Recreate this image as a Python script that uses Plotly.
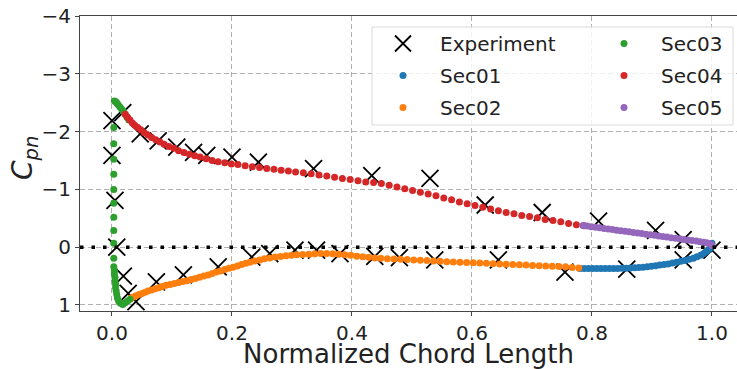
import plotly.graph_objects as go

# ---------------- data ----------------
exp_x = [0.005, 0.0, 0.0, 0.018, 0.047, 0.077, 0.108, 0.136, 0.158, 0.200, 0.244, 0.336,
         0.433, 0.530, 0.622, 0.717, 0.811, 0.906, 0.952, 1.000,
         0.008, 0.019, 0.027, 0.040, 0.074, 0.119, 0.177, 0.233, 0.263, 0.305, 0.341,
         0.380, 0.438, 0.479, 0.538, 0.644, 0.755, 0.858, 0.952]
exp_cp = [-0.81, -1.59, -2.19, -2.33, -1.96, -1.84, -1.73, -1.64, -1.59, -1.56, -1.47, -1.36,
          -1.24, -1.19, -0.73, -0.60, -0.45, -0.29, -0.13, 0.05,
          0.00, 0.50, 0.80, 0.94, 0.60, 0.48, 0.34, 0.17, 0.11, 0.05, 0.05,
          0.11, 0.16, 0.18, 0.22, 0.22, 0.43, 0.38, 0.22]

sec01_x = [0.780, 0.787, 0.794, 0.801, 0.808, 0.815, 0.822, 0.829, 0.836, 0.843, 0.850, 0.857,
           0.864, 0.871, 0.878, 0.885, 0.892, 0.899, 0.906, 0.913, 0.920, 0.927, 0.934, 0.941,
           0.948, 0.955, 0.962, 0.969, 0.975, 0.981, 0.986, 0.990, 0.994, 0.997, 0.999, 1.000]
sec01_cp = [0.37, 0.37, 0.37, 0.37, 0.37, 0.37, 0.37, 0.37, 0.37, 0.37, 0.365, 0.365,
            0.36, 0.355, 0.35, 0.345, 0.34, 0.33, 0.32, 0.31, 0.30, 0.29, 0.275, 0.26,
            0.245, 0.23, 0.21, 0.19, 0.165, 0.14, 0.11, 0.08, 0.05, 0.01, -0.03, -0.07]

sec02_x = [0.032, 0.036, 0.040, 0.045, 0.050, 0.055, 0.060, 0.066, 0.072, 0.078, 0.084, 0.090,
           0.097, 0.104, 0.111, 0.118, 0.125, 0.132, 0.139, 0.146, 0.153, 0.160, 0.167, 0.174,
           0.181, 0.188, 0.195, 0.202, 0.209, 0.216, 0.223, 0.230, 0.238, 0.246, 0.254, 0.263,
           0.272, 0.281, 0.290, 0.299, 0.308, 0.318, 0.328, 0.338, 0.348, 0.358, 0.368, 0.378,
           0.388, 0.398, 0.408, 0.418, 0.428, 0.438, 0.448, 0.459, 0.470, 0.481, 0.492, 0.503,
           0.514, 0.525, 0.536, 0.547, 0.558, 0.569, 0.580, 0.591, 0.602, 0.613, 0.624, 0.635,
           0.646, 0.657, 0.668, 0.679, 0.690, 0.701, 0.712, 0.723, 0.734, 0.745, 0.756, 0.767,
           0.778]
sec02_cp = [0.88, 0.86, 0.84, 0.82, 0.80, 0.78, 0.76, 0.74, 0.72, 0.70, 0.68, 0.66,
            0.645, 0.63, 0.61, 0.595, 0.58, 0.56, 0.54, 0.52, 0.50, 0.48, 0.455, 0.43,
            0.41, 0.385, 0.365, 0.345, 0.325, 0.30, 0.28, 0.26, 0.24, 0.22, 0.20, 0.185,
            0.17, 0.16, 0.15, 0.14, 0.13, 0.125, 0.12, 0.115, 0.11, 0.11, 0.115, 0.12,
            0.13, 0.14, 0.155, 0.165, 0.175, 0.185, 0.19, 0.20, 0.205, 0.21, 0.215, 0.22,
            0.225, 0.23, 0.24, 0.245, 0.25, 0.255, 0.26, 0.265, 0.27, 0.275, 0.28, 0.285,
            0.29, 0.295, 0.30, 0.305, 0.31, 0.315, 0.32, 0.325, 0.33, 0.335, 0.34, 0.35,
            0.36]

sec03_x = [0.028, 0.025, 0.022, 0.019, 0.016, 0.013, 0.010, 0.008, 0.006, 0.004,
           0.003, 0.003, 0.003, 0.003, 0.003, 0.003, 0.003, 0.003, 0.003, 0.003,
           0.003, 0.004, 0.004, 0.005, 0.005, 0.006, 0.006, 0.007, 0.008, 0.009,
           0.011, 0.014, 0.018, 0.022, 0.026, 0.030]
sec03_cp = [-2.20, -2.25, -2.30, -2.35, -2.39, -2.43, -2.47, -2.50, -2.52, -2.53,
            -2.07, -1.79, -1.52, -1.26, -1.00, -0.76, -0.52, -0.29, -0.07, 0.19,
            0.34, 0.40, 0.46, 0.52, 0.58, 0.64, 0.70, 0.76, 0.82, 0.88,
            0.93, 0.97, 0.99, 0.96, 0.93, 0.90]

sec04_x = [0.022, 0.026, 0.030, 0.034, 0.038, 0.043, 0.048, 0.054, 0.060, 0.066, 0.073, 0.080,
           0.087, 0.095, 0.103, 0.111, 0.120, 0.129, 0.138, 0.147, 0.157, 0.167, 0.177, 0.188,
           0.199, 0.210, 0.222, 0.234, 0.246, 0.258, 0.270, 0.282, 0.294, 0.306, 0.319, 0.332,
           0.345, 0.358, 0.371, 0.384, 0.397, 0.410, 0.423, 0.436, 0.449, 0.462, 0.475, 0.488,
           0.501, 0.514, 0.527, 0.540, 0.553, 0.566, 0.579, 0.592, 0.605, 0.618, 0.631, 0.644,
           0.657, 0.670, 0.683, 0.696, 0.709, 0.722, 0.735, 0.748, 0.761, 0.774, 0.787]
sec04_cp = [-2.30, -2.25, -2.20, -2.15, -2.11, -2.07, -2.03, -1.98, -1.94, -1.90, -1.86, -1.82,
            -1.78, -1.74, -1.71, -1.67, -1.64, -1.61, -1.58, -1.56, -1.53, -1.50, -1.48, -1.46,
            -1.44, -1.43, -1.41, -1.39, -1.38, -1.36, -1.35, -1.33, -1.32, -1.30, -1.29, -1.27,
            -1.25, -1.23, -1.21, -1.19, -1.17, -1.15, -1.13, -1.12, -1.10, -1.07, -1.04, -1.01,
            -0.98, -0.95, -0.92, -0.89, -0.85, -0.82, -0.78, -0.75, -0.72, -0.69, -0.66, -0.63,
            -0.60, -0.58, -0.55, -0.53, -0.51, -0.48, -0.46, -0.44, -0.41, -0.39, -0.37]

sec05_x = [0.785, 0.792, 0.799, 0.806, 0.813, 0.820, 0.827, 0.834, 0.841, 0.848, 0.855, 0.862,
           0.869, 0.876, 0.883, 0.890, 0.897, 0.904, 0.911, 0.918, 0.925, 0.932, 0.939, 0.946,
           0.953, 0.960, 0.967, 0.974, 0.980, 0.986, 0.991, 0.995, 0.998, 1.000]
sec05_cp = [-0.375, -0.365, -0.355, -0.345, -0.335, -0.325, -0.315, -0.305, -0.295, -0.285,
            -0.275, -0.265, -0.255, -0.245, -0.235, -0.225, -0.215, -0.205, -0.195, -0.185,
            -0.175, -0.165, -0.155, -0.145, -0.135, -0.125, -0.115, -0.105, -0.095, -0.085,
            -0.075, -0.065, -0.05, -0.03]

x_ticks = [0.0, 0.2, 0.4, 0.6, 0.8, 1.0]
x_tick_labels = ["0.0", "0.2", "0.4", "0.6", "0.8", "1.0"]
y_ticks = [-4, -3, -2, -1, 0, 1]
y_tick_labels = ["\u22124", "\u22123", "\u22122", "\u22121", "0", "1"]

# ---------------- figure ----------------
FONT = "DejaVu Sans"
W, H = 737, 369
ML, MR, MT, MB = 80, 0, 16, 58
PW, PH = W - ML - MR, H - MT - MB


def px_x(p):
    return (p - ML) / PW


def px_y(p):
    return (H - MB - p) / PH


fig = go.Figure()

fig.add_trace(go.Scatter(
    x=exp_x, y=exp_cp, mode="markers", name="Experiment",
    marker=dict(symbol="x-thin-open", size=17, color="black",
                line=dict(color="black", width=1.8)),
    legend="legend", legendgroup="e"))

sections = [
    ("Sec01", sec01_x, sec01_cp, "#1f77b4", "legend"),
    ("Sec02", sec02_x, sec02_cp, "#ff7f0e", "legend"),
    ("Sec03", sec03_x, sec03_cp, "#2ca02c", "legend2"),
    ("Sec04", sec04_x, sec04_cp, "#d62728", "legend2"),
    ("Sec05", sec05_x, sec05_cp, "#9467bd", "legend2"),
]
for name, xs, ys, col, lg in sections:
    fig.add_trace(go.Scatter(
        x=xs, y=ys, mode="markers", name=name,
        marker=dict(symbol="circle", size=7, color=col, line=dict(width=0)),
        legend=lg, legendgroup=name))

# zero line (dotted)
fig.add_shape(type="line", xref="paper", yref="y", x0=0, x1=1, y0=0, y1=0,
              line=dict(color="black", width=3.5, dash="3.5px,8px"), layer="above")

# legend box
bx0, bx1, by0, by1 = px_x(372), px_x(733), px_y(27), px_y(125)
fig.add_shape(type="rect", xref="paper", yref="paper", x0=bx0, x1=bx1, y0=by1, y1=by0,
              line=dict(color="#d9d9d9", width=1), fillcolor="rgba(255,255,255,0.8)",
              layer="above")

legend_common = dict(
    font=dict(family=FONT, size=20, color="#222222"),
    bgcolor="rgba(0,0,0,0)", borderwidth=0,
    xanchor="left", yanchor="top", tracegroupgap=3, itemwidth=64,
    itemsizing="trace",
)

fig.update_layout(
    width=W, height=H,
    margin=dict(l=ML, r=MR, t=MT, b=MB, pad=0),
    plot_bgcolor="white", paper_bgcolor="white",
    font=dict(family=FONT, size=20, color="#222222"),
    showlegend=True,
    legend=dict(x=px_x(366), y=px_y(24), **legend_common),
    legend2=dict(x=px_x(587), y=px_y(24), **legend_common),
    xaxis=dict(
        range=[-0.0533, 1.0417], tickmode="array", tickvals=x_ticks, ticktext=x_tick_labels,
        showgrid=True, gridcolor="#b0b0b0", gridwidth=1, griddash="5px,3px",
        zeroline=False, showline=True, linecolor="#444444", linewidth=1, mirror=True,
        ticks="outside", ticklen=4, tickcolor="#444444",
        tickfont=dict(family=FONT, size=20, color="#222222"),
        title=dict(text="Normalized Chord Length", font=dict(family=FONT, size=26, color="#222222"),
                   standoff=0),
    ),
    yaxis=dict(
        range=[1.104, -4], tickmode="array", tickvals=y_ticks, ticktext=y_tick_labels,
        showgrid=True, gridcolor="#b0b0b0", gridwidth=1, griddash="5px,3px",
        zeroline=False, showline=True, linecolor="#444444", linewidth=1, mirror=False,
        ticks="outside", ticklen=4, tickcolor="#444444",
        tickfont=dict(family=FONT, size=20, color="#222222"),
    ),
)

fig.add_annotation(
    text="<i>C</i><sub><i>pn</i></sub>", xref="paper", yref="paper",
    x=px_x(24), y=px_y(158), textangle=-90, showarrow=False,
    font=dict(family=FONT, size=28, color="#222222"), xanchor="center", yanchor="middle")

fig.write_html("out.html")
